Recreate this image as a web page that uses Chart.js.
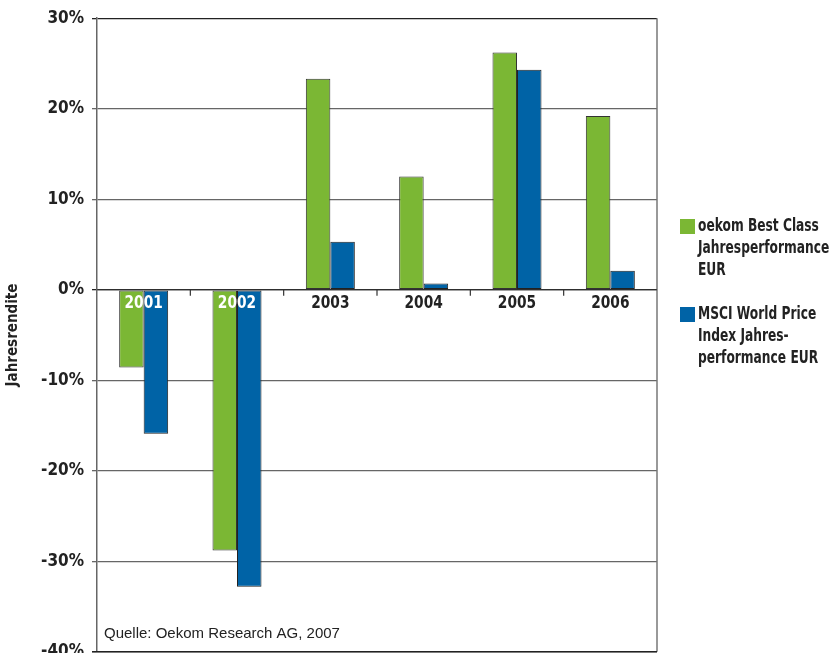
<!DOCTYPE html>
<html>
<head>
<meta charset="utf-8">
<script src="https://cdn.jsdelivr.net/npm/chart.js@4"></script>
<style>
    html, body { margin: 0; background: #fff; overflow: hidden; height: 653px; }
    canvas { display: block; }
</style>
</head>
<body>
<canvas id="returnsChart" width="830" height="670"></canvas>
<script>
const years = ['2001', '2002', '2003', '2004', '2005', '2006'];
const oekomValues = [-8.6, -28.8, 23.3, 12.5, 26.2, 19.2];
const msciValues = [-15.9, -32.8, 5.3, 0.7, 24.3, 2.1];
const legendLines = [
    ['oekom Best Class', 'Jahresperformance', 'EUR'],
    ['MSCI World Price', 'Index Jahres-', 'performance EUR']
];
const sourceText = 'Quelle: Oekom Research AG, 2007';
const axisTitle = 'Jahresrendite';

const green = 'rgb(123, 183, 52)';
const blue = 'rgb(0, 99, 166)';
const boldFont = '"Liberation Sans Narrow", "DejaVu Sans Condensed", "Arial Narrow", sans-serif';

// text squeezed a bit to look like the condensed face of the original
function drawNarrow(ctx, text, x, y, squeeze) {
    ctx.save();
    ctx.translate(x, y);
    ctx.scale(squeeze, 1);
    ctx.fillText(text, 0, 0);
    ctx.restore();
}

// draws year labels on the zero line, frame, legend and source note
const extrasPlugin = {
    id: 'extras',
    afterDatasetsDraw(chart) {
        let ctx = chart.ctx;
        let x = chart.scales.x;
        let y = chart.scales.y;
        let area = chart.chartArea;
        let zeroY = y.getPixelForValue(0);

        ctx.save();
        // right frame line
        ctx.strokeStyle = '#777';
        ctx.lineWidth = 1.5;
        ctx.beginPath();
        ctx.moveTo(area.right, area.top);
        ctx.lineTo(area.right, area.bottom);
        ctx.stroke();

        // zero line + ticks between categories
        ctx.strokeStyle = '#333';
        ctx.lineWidth = 1.2;
        ctx.beginPath();
        ctx.moveTo(area.left, zeroY);
        ctx.lineTo(area.right, zeroY);
        for (let i = 0; i < years.length - 1; i++) {
            let bx = (x.getPixelForValue(i) + x.getPixelForValue(i + 1)) / 2;
            ctx.moveTo(bx, zeroY);
            ctx.lineTo(bx, zeroY + 6);
        }
        ctx.stroke();

        // bottom line
        ctx.strokeStyle = '#222';
        ctx.lineWidth = 1.5;
        ctx.beginPath();
        ctx.moveTo(area.left - 5, area.bottom);
        ctx.lineTo(area.right, area.bottom);
        ctx.stroke();

        ctx.font = 'bold 18px ' + boldFont;
        ctx.textAlign = 'center';
        ctx.textBaseline = 'middle';
        years.forEach((year, i) => {
            let negative = oekomValues[i] < 0 && msciValues[i] < 0;
            ctx.fillStyle = negative ? '#fff' : '#222';
            drawNarrow(ctx, year, x.getPixelForValue(i), zeroY + 14, 0.85);
        });

        // source note
        ctx.font = '15px "Liberation Sans", Arial, sans-serif';
        ctx.fillStyle = '#222';
        ctx.textAlign = 'left';
        ctx.fillText(sourceText, area.left + 7, area.bottom - 18);

        // legend
        let colors = [green, blue];
        let tops = [219, 307];
        ctx.font = 'bold 17px ' + boldFont;
        legendLines.forEach((lines, i) => {
            ctx.fillStyle = colors[i];
            ctx.fillRect(area.right + 23, tops[i], 15, 15);
            ctx.fillStyle = '#222';
            lines.forEach((line, j) => {
                drawNarrow(ctx, line, area.right + 41, tops[i] + 7.5 + j * 22, 0.8);
            });
        });
        ctx.restore();
    }
};

new Chart(document.getElementById('returnsChart'), {
    type: 'bar',
    data: {
        labels: years,
        datasets: [
            {
                label: legendLines[0].join(' '),
                data: oekomValues,
                backgroundColor: green,
                borderColor: '#333',
                borderWidth: 1,
                borderSkipped: false,
                categoryPercentage: 0.525,
                barPercentage: 1
            },
            {
                label: legendLines[1].join(' '),
                data: msciValues,
                backgroundColor: blue,
                borderColor: '#222',
                borderWidth: 1,
                borderSkipped: false,
                categoryPercentage: 0.525,
                barPercentage: 1
            }
        ]
    },
    options: {
        responsive: false,
        animation: false,
        devicePixelRatio: 1,
        layout: { padding: { left: 0, right: 173, top: 15, bottom: 2 } },
        plugins: {
            legend: { display: false },
            tooltip: { enabled: false }
        },
        scales: {
            x: {
                display: false
            },
            y: {
                min: -40,
                max: 30,
                afterFit(scale) { scale.width = 97; },
                ticks: {
                    stepSize: 10,
                    padding: 8,
                    color: '#222',
                    font: { family: boldFont, size: 17, weight: 'bold' },
                    callback: (v) => v + '%'
                },
                grid: {
                    tickLength: 5,
                    lineWidth: 1.3,
                    color: (c) => (c.tick && (c.tick.value === 30 || c.tick.value === 0)) ? '#222' : '#666'
                },
                border: { color: '#666', width: 1.5 },
                title: {
                    display: true,
                    text: axisTitle,
                    color: '#222',
                    font: { family: boldFont, size: 15, weight: 'bold' },
                    padding: { top: 4, bottom: 0 }
                }
            }
        }
    },
    plugins: [extrasPlugin]
});
</script>
</body>
</html>
